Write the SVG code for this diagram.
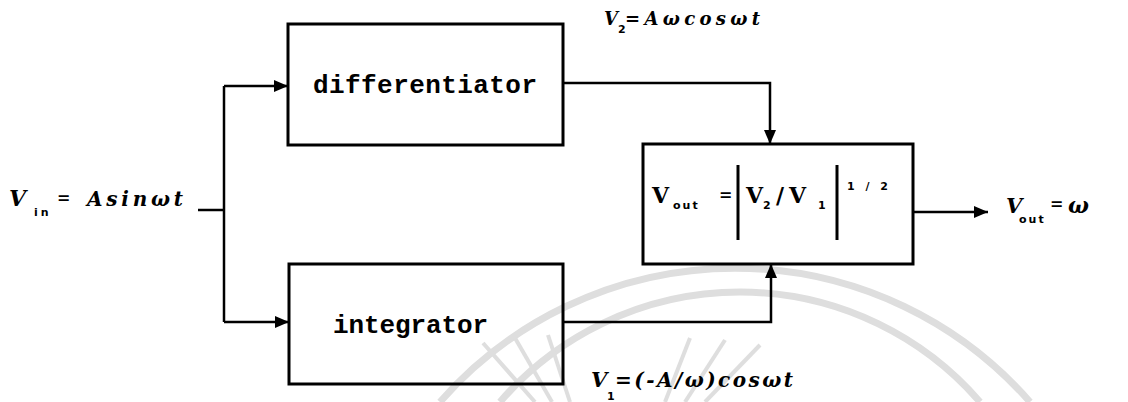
<svg xmlns="http://www.w3.org/2000/svg" width="1128" height="402" viewBox="0 0 1128 402">
<style>
.box{fill:none;stroke:#000;stroke-width:3}
.wire{fill:none;stroke:#000;stroke-width:2.5}
.bar{stroke:#000;stroke-width:3}
.mono{font-family:"Liberation Mono","DejaVu Sans Mono",monospace;font-weight:bold;font-size:26px;fill:#000}
.lbl{font-family:"DejaVu Serif","Liberation Serif",serif;font-style:italic;font-weight:bold;fill:#000}
.up{font-family:"DejaVu Serif","Liberation Serif",serif;font-weight:bold;fill:#000}
.sub{font-family:"DejaVu Sans","Liberation Sans",sans-serif;font-weight:bold;font-size:11px;fill:#000}
.wm{fill:none;stroke:#dedede}
</style>
<defs>
<marker id="arr" markerUnits="userSpaceOnUse" markerWidth="16" markerHeight="12" refX="14" refY="6" orient="auto">
<path d="M0,0 L14,6 L0,12 Z" fill="#000"/>
</marker>
</defs>
<rect width="1128" height="402" fill="#fff"/>
<g id="watermark">
<path class="wm" stroke-width="7" d="M440,402 A392,392 0 0 1 1030,402"/>
<path class="wm" stroke-width="7" d="M500,402 A317,317 0 0 1 980,402"/>
<g stroke-width="4" class="wm">
<path d="M535,402 L483,343"/>
<path d="M552,402 L515,338"/>
<path d="M570,402 L548,335"/>
<path d="M665,402 L690,338"/>
<path d="M685,402 L725,340"/>
<path d="M705,402 L760,345"/>
</g>
</g>
<g id="connectors">
<path class="wire" d="M198,210 H224"/>
<path class="wire" d="M224,86 V322"/>
<path class="wire" d="M224,86 H288" marker-end="url(#arr)"/>
<path class="wire" d="M224,322 H289" marker-end="url(#arr)"/>
<path class="wire" d="M563,83 H770 V144" marker-end="url(#arr)"/>
<path class="wire" d="M563,322 H771 V264" marker-end="url(#arr)"/>
<path class="wire" d="M913,212 H988" marker-end="url(#arr)"/>
</g>
<g id="differentiator">
<rect class="box" x="288" y="24" width="275" height="121"/>
<text class="mono" x="313" y="93" textLength="224" lengthAdjust="spacing">differentiator</text>
</g>
<g id="integrator">
<rect class="box" x="289" y="264" width="274" height="120"/>
<text class="mono" x="333" y="333" textLength="155" lengthAdjust="spacing">integrator</text>
</g>
<g id="ratio">
<rect class="box" x="643" y="144" width="270" height="120"/>
<text class="up" x="652" y="203" font-size="22">V</text>
<text class="sub" x="673" y="209" letter-spacing="2">out</text>
<text class="up" x="719" y="200" font-size="16">=</text>
<line class="bar" x1="738" y1="165" x2="738" y2="240"/>
<text class="up" x="746" y="203" font-size="22">V</text>
<text class="sub" x="763" y="209">2</text>
<text class="up" x="776" y="203" font-size="22">/</text>
<text class="up" x="789" y="203" font-size="22">V</text>
<text class="sub" x="818" y="209">1</text>
<line class="bar" x1="837" y1="165" x2="837" y2="240"/>
<text class="sub" x="847" y="190" textLength="41" lengthAdjust="spacing">1/2</text>
</g>
<g id="labels">
<text class="lbl" x="9" y="206" font-size="22">V</text>
<text class="sub" x="34" y="216" letter-spacing="3">in</text>
<text class="up" x="57" y="203" font-size="16">=</text>
<text class="lbl" x="87" y="206" font-size="20" textLength="96" lengthAdjust="spacing">Asinωt</text>
<text class="lbl" x="604" y="25" font-size="18">V</text>
<text class="sub" x="618" y="33">2</text>
<text class="lbl" x="625" y="25" font-size="18" textLength="135" lengthAdjust="spacing">=Aωcosωt</text>
<text class="lbl" x="591" y="387" font-size="21">V</text>
<text class="sub" x="607" y="400">1</text>
<text class="lbl" x="615" y="387" font-size="20" textLength="178" lengthAdjust="spacing">=(-A/ω)cosωt</text>
<text class="lbl" x="1006" y="213" font-size="21">V</text>
<text class="sub" x="1019" y="223" letter-spacing="2">out</text>
<text class="up" x="1050" y="209" font-size="16">=</text>
<text class="lbl" x="1068" y="213" font-size="22">ω</text>
</g>
</svg>
